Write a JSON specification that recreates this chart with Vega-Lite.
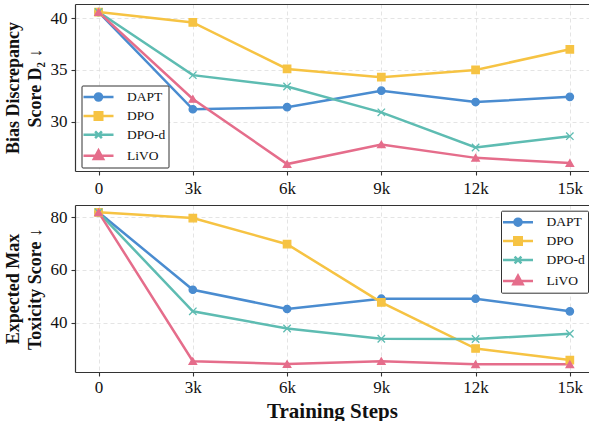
{
  "$schema": "https://vega.github.io/schema/vega-lite/v6.json",
  "background": "white",
  "padding": {"left": 4, "top": 4, "right": 0, "bottom": 0},
  "config": {
    "font": "Liberation Serif",
    "view": {"stroke": null},
    "axis": {
      "labelFont": "Liberation Serif", "labelFontSize": 17, "labelColor": "#111",
      "tickColor": "#333", "tickSize": 4, "tickWidth": 1.1,
      "domainColor": "#333", "domainWidth": 1.2,
      "gridColor": "#dddddd", "gridDash": [4, 3], "gridWidth": 0.8,
      "titleFont": "Liberation Serif", "titleFontWeight": "bold", "titleColor": "#111",
      "labelPadding": 4
    },
    "legend": {
      "title": null, "orient": "none", "padding": 2.5, "symbolSize": 225, "symbolOffset": 5.5, "labelOffset": 19.5, "rowPadding": 0.9,
      "symbolOpacity": 1, "symbolStrokeWidth": 2.5, "strokeColor": "#333", "fillColor": "white", "cornerRadius": 1,
      "labelFontSize": 13.5, "labelFont": "Liberation Serif", "labelColor": "#111"
    }
  },
  "datasets": {
    "d": [
      {"step": 0, "method": "DAPT", "bias": 40.6, "tox": 81.9},
      {"step": 3000, "method": "DAPT", "bias": 31.2, "tox": 52.5},
      {"step": 6000, "method": "DAPT", "bias": 31.4, "tox": 45.2},
      {"step": 9000, "method": "DAPT", "bias": 33.0, "tox": 49.1},
      {"step": 12000, "method": "DAPT", "bias": 31.9, "tox": 49.1},
      {"step": 15000, "method": "DAPT", "bias": 32.4, "tox": 44.3},
      {"step": 0, "method": "DPO", "bias": 40.6, "tox": 81.9},
      {"step": 3000, "method": "DPO", "bias": 39.6, "tox": 79.7},
      {"step": 6000, "method": "DPO", "bias": 35.1, "tox": 69.8},
      {"step": 9000, "method": "DPO", "bias": 34.3, "tox": 47.7},
      {"step": 12000, "method": "DPO", "bias": 35.0, "tox": 30.2},
      {"step": 15000, "method": "DPO", "bias": 37.0, "tox": 25.8},
      {"step": 0, "method": "DPO-d", "bias": 40.6, "tox": 81.9},
      {"step": 3000, "method": "DPO-d", "bias": 34.5, "tox": 44.3},
      {"step": 6000, "method": "DPO-d", "bias": 33.4, "tox": 37.8},
      {"step": 9000, "method": "DPO-d", "bias": 30.9, "tox": 33.9},
      {"step": 12000, "method": "DPO-d", "bias": 27.5, "tox": 33.8},
      {"step": 15000, "method": "DPO-d", "bias": 28.6, "tox": 35.8},
      {"step": 0, "method": "LiVO", "bias": 40.6, "tox": 81.9},
      {"step": 3000, "method": "LiVO", "bias": 32.2, "tox": 25.4},
      {"step": 6000, "method": "LiVO", "bias": 25.9, "tox": 24.3},
      {"step": 9000, "method": "LiVO", "bias": 27.8, "tox": 25.4},
      {"step": 12000, "method": "LiVO", "bias": 26.5, "tox": 24.2},
      {"step": 15000, "method": "LiVO", "bias": 26.0, "tox": 24.2}
    ]
  },
  "spacing": 9,
  "resolve": {
    "scale": {"color": "independent", "shape": "independent", "stroke": "independent"},
    "legend": {"color": "independent", "shape": "independent", "stroke": "independent"}
  },
  "vconcat": [
    {
      "width": 514, "height": 167,
      "data": {"name": "d"},
      "resolve": {
        "axis": {"x": "independent"},
        "scale": {"color": "independent", "shape": "independent", "stroke": "independent"},
        "legend": {"color": "independent", "shape": "independent", "stroke": "independent"}
      },
      "layer": [
        {
          "mark": {"type": "line", "strokeWidth": 2.5},
          "encoding": {
            "x": {"field": "step", "type": "quantitative",
              "scale": {"domain": [-750, 15610], "nice": false, "zero": false},
              "axis": {"values": [0, 3000, 6000, 9000, 12000, 15000], "labelExpr": "datum.value === 0 ? '0' : (datum.value/1000) + 'k'", "title": null, "grid": true, "labelPadding": 5}},
            "y": {"field": "bias", "type": "quantitative",
              "scale": {"domain": [25.23, 41.38], "nice": false, "zero": false},
              "axis": {"values": [30, 35, 40], "title": ["Bias Discrepancy", "Score D₂ ↓"], "titleFontSize": 18, "titleLineHeight": 22, "titlePadding": 6, "grid": true}},
            "color": {"field": "method", "type": "nominal",
              "scale": {"domain": ["DAPT", "DPO", "DPO-d", "LiVO"], "range": ["#4a8cd0", "#f6c343", "#5ebcb2", "#e56d8b"]},
              "legend": null}
          }
        },
        {
          "mark": {"type": "point", "filled": true, "size": 55, "strokeWidth": 1.3, "opacity": 1},
          "encoding": {
            "x": {"field": "step", "type": "quantitative",
              "axis": {"orient": "top", "labels": false, "ticks": false, "grid": false, "title": null, "domain": true}},
            "y": {"field": "bias", "type": "quantitative"},
            "color": {"field": "method", "type": "nominal",
              "scale": {"domain": ["DAPT", "DPO", "DPO-d", "LiVO"], "range": ["#4a8cd0", "#f6c343", "#5ebcb2", "#e56d8b"]}, "legend": null},
            "stroke": {"field": "method", "type": "nominal",
              "scale": {"domain": ["DAPT", "DPO", "DPO-d", "LiVO"], "range": ["#4a8cd0", "#f6c343", "#5ebcb2", "#e56d8b"]}, "legend": null},
            "shape": {"field": "method", "type": "nominal",
              "scale": {"domain": ["DAPT", "DPO", "DPO-d", "LiVO"], "range": ["circle", "square", "M-1,-1L1,1M-1,1L1,-1", "triangle-up"]}, "legend": null}
          }
        },
        {
          "mark": {"type": "point", "filled": true, "size": 225, "strokeWidth": 2.5, "opacity": 0},
          "encoding": {
            "x": {"field": "step", "type": "quantitative", "axis": null},
            "y": {"field": "bias", "type": "quantitative"},
            "color": {"field": "method", "type": "nominal",
              "scale": {"domain": ["DAPT", "DPO", "DPO-d", "LiVO"], "range": ["#4a8cd0", "#f6c343", "#5ebcb2", "#e56d8b"]},
              "legend": {"legendX": 6.5, "legendY": 81.5}},
            "stroke": {"field": "method", "type": "nominal",
              "scale": {"domain": ["DAPT", "DPO", "DPO-d", "LiVO"], "range": ["#4a8cd0", "#f6c343", "#5ebcb2", "#e56d8b"]},
              "legend": {"legendX": 6.5, "legendY": 81.5}},
            "shape": {"field": "method", "type": "nominal",
              "scale": {"domain": ["DAPT", "DPO", "DPO-d", "LiVO"], "range": ["M-2,0L2,0M-0.47,0A0.47,0.47 0 1,0 0.47,0A0.47,0.47 0 1,0 -0.47,0Z", "M-2,0L2,0M-0.5,-0.5L0.5,-0.5L0.5,0.5L-0.5,0.5Z", "M-2,0L2,0M-0.45,-0.45L0.45,0.45M-0.45,0.45L0.45,-0.45", "M-2,0L2,0M0,-0.7L0.62,0.45L-0.62,0.45Z"]},
              "legend": {"legendX": 6.5, "legendY": 81.5}}
          }
        }
      ]
    },
    {
      "width": 514, "height": 167,
      "data": {"name": "d"},
      "resolve": {
        "axis": {"x": "independent"},
        "scale": {"color": "independent", "shape": "independent", "stroke": "independent"},
        "legend": {"color": "independent", "shape": "independent", "stroke": "independent"}
      },
      "layer": [
        {
          "mark": {"type": "line", "strokeWidth": 2.5},
          "encoding": {
            "x": {"field": "step", "type": "quantitative",
              "scale": {"domain": [-750, 15610], "nice": false, "zero": false},
              "axis": {"values": [0, 3000, 6000, 9000, 12000, 15000], "labelExpr": "datum.value === 0 ? '0' : (datum.value/1000) + 'k'", "title": "Training Steps", "titleFontSize": 21, "titlePadding": 5, "grid": true, "labelPadding": 3}},
            "y": {"field": "tox", "type": "quantitative",
              "scale": {"domain": [21.28, 84.67], "nice": false, "zero": false},
              "axis": {"values": [40, 60, 80], "title": ["Expected Max", "Toxicity Score ↓"], "titleFontSize": 18, "titleLineHeight": 22, "titlePadding": 6, "grid": true}},
            "color": {"field": "method", "type": "nominal",
              "scale": {"domain": ["DAPT", "DPO", "DPO-d", "LiVO"], "range": ["#4a8cd0", "#f6c343", "#5ebcb2", "#e56d8b"]},
              "legend": null}
          }
        },
        {
          "mark": {"type": "point", "filled": true, "size": 55, "strokeWidth": 1.3, "opacity": 1},
          "encoding": {
            "x": {"field": "step", "type": "quantitative",
              "axis": {"orient": "top", "labels": false, "ticks": false, "grid": false, "title": null, "domain": true}},
            "y": {"field": "tox", "type": "quantitative"},
            "color": {"field": "method", "type": "nominal",
              "scale": {"domain": ["DAPT", "DPO", "DPO-d", "LiVO"], "range": ["#4a8cd0", "#f6c343", "#5ebcb2", "#e56d8b"]}, "legend": null},
            "stroke": {"field": "method", "type": "nominal",
              "scale": {"domain": ["DAPT", "DPO", "DPO-d", "LiVO"], "range": ["#4a8cd0", "#f6c343", "#5ebcb2", "#e56d8b"]}, "legend": null},
            "shape": {"field": "method", "type": "nominal",
              "scale": {"domain": ["DAPT", "DPO", "DPO-d", "LiVO"], "range": ["circle", "square", "M-1,-1L1,1M-1,1L1,-1", "triangle-up"]}, "legend": null}
          }
        },
        {
          "mark": {"type": "point", "filled": true, "size": 225, "strokeWidth": 2.5, "opacity": 0},
          "encoding": {
            "x": {"field": "step", "type": "quantitative", "axis": null},
            "y": {"field": "tox", "type": "quantitative"},
            "color": {"field": "method", "type": "nominal",
              "scale": {"domain": ["DAPT", "DPO", "DPO-d", "LiVO"], "range": ["#4a8cd0", "#f6c343", "#5ebcb2", "#e56d8b"]},
              "legend": {"legendX": 426, "legendY": 5.7}},
            "stroke": {"field": "method", "type": "nominal",
              "scale": {"domain": ["DAPT", "DPO", "DPO-d", "LiVO"], "range": ["#4a8cd0", "#f6c343", "#5ebcb2", "#e56d8b"]},
              "legend": {"legendX": 426, "legendY": 5.7}},
            "shape": {"field": "method", "type": "nominal",
              "scale": {"domain": ["DAPT", "DPO", "DPO-d", "LiVO"], "range": ["M-2,0L2,0M-0.47,0A0.47,0.47 0 1,0 0.47,0A0.47,0.47 0 1,0 -0.47,0Z", "M-2,0L2,0M-0.5,-0.5L0.5,-0.5L0.5,0.5L-0.5,0.5Z", "M-2,0L2,0M-0.45,-0.45L0.45,0.45M-0.45,0.45L0.45,-0.45", "M-2,0L2,0M0,-0.7L0.62,0.45L-0.62,0.45Z"]},
              "legend": {"legendX": 426, "legendY": 5.7}}
          }
        }
      ]
    }
  ]
}
